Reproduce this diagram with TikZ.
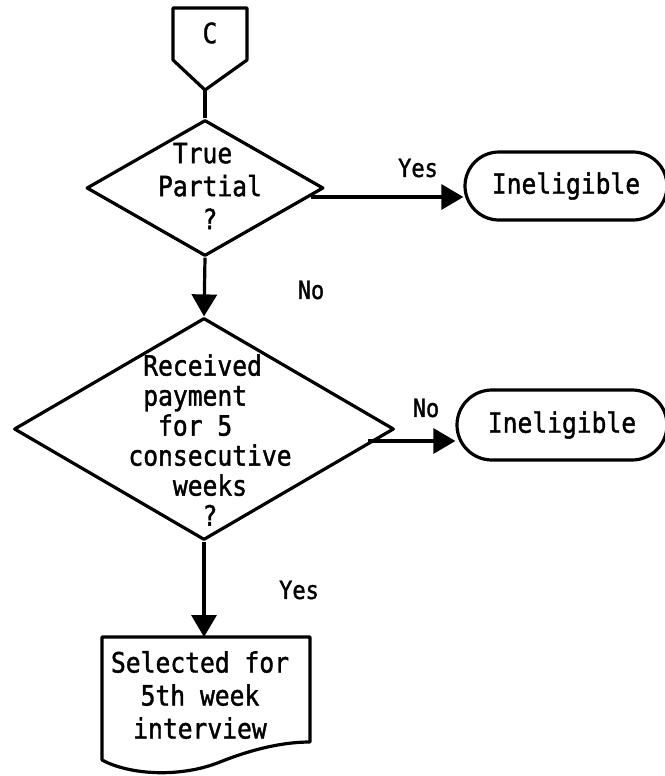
\documentclass[tikz,border=0pt]{standalone}
\usepackage{fontspec}
\setmonofont[FakeStretch=0.88, FakeBold=1.4]{DejaVu Sans Mono}
\usetikzlibrary{arrows.meta,shapes.geometric,calc}

\begin{document}
\begin{tikzpicture}[x=1pt,y=-1pt,
  every node/.style={font=\ttfamily\fontsize{28}{30}\selectfont, inner sep=0pt},
  line/.style={line width=3.2pt, line join=round},
  arr/.style={line, -{Triangle[length=22pt,width=25pt]}},
  decision/.style={draw, line, diamond},
  terminal/.style={draw, line},
  lbl/.style={font=\ttfamily\fontsize{25}{26}\selectfont}]
\useasboundingbox (0,0) rectangle (664,776);

% off-page connector
\draw[line] (173,8) -- (247,8) -- (247,60) -- (205,90) -- (173,60) -- cycle;
\node (c) at (210,33) {C};
\coordinate (ctip) at (205,90);

% first decision
\node[decision, minimum width=237pt, minimum height=136pt] (d1) at (205,188) {};
\node[align=left, font=\ttfamily\fontsize{28}{33}\selectfont] (d1txt) at (210,186)
  {\phantom{x}True\\Partial\\\phantom{xxx}?};

% second decision
\node[decision, minimum width=380pt, minimum height=222pt] (d2) at (204,429) {};
\node[align=left] (d2txt) at (210,440)
  {\phantom{x}Received\\\phantom{x}payment\\\phantom{xx}for 5\\consecutive\\\phantom{xxx}weeks\\\phantom{xxxxx}?};

% terminals
\node[terminal, rounded corners=34pt, minimum width=202pt, minimum height=68pt] (t1) at (566,186) {Ineligible};
\node[terminal, rounded corners=35pt, minimum width=210pt, minimum height=70pt] (t2) at (562,425) {Ineligible};

% document
\coordinate (doctop) at (204,637);
\draw[line] (102,637) -- (310,637) -- (310,742)
  .. controls (285,742) and (255,748) .. (220,762)
  .. controls (180,778) and (130,775) .. (102,760) -- cycle;
\node[align=center, font=\ttfamily\fontsize{28}{33}\selectfont] (doc) at (200,695)
  {Selected for\\5th week\\interview};

% connectors
\draw[line] (ctip) -- (d1.north);
\draw[arr] (d1.south) -- (d2.north);
\draw[arr] (d2.south) -- (doctop);
\coordinate (y1) at ($(d1.east)+(-14,9)$);
\draw[arr] (y1) -- (y1 -| t1.west);
\coordinate (y2) at ($(d2.east)+(-28,12)$);
\draw[arr] (y2) -- (y2 -| t2.west);

% branch labels
\node[lbl] (lyes1) at (418,168) {Yes};
\node[lbl] (lno1) at (311,290) {No};
\node[lbl] (lno2) at (426,408) {No};
\node[lbl] (lyes2) at (299,590) {Yes};
\end{tikzpicture}
\end{document}
